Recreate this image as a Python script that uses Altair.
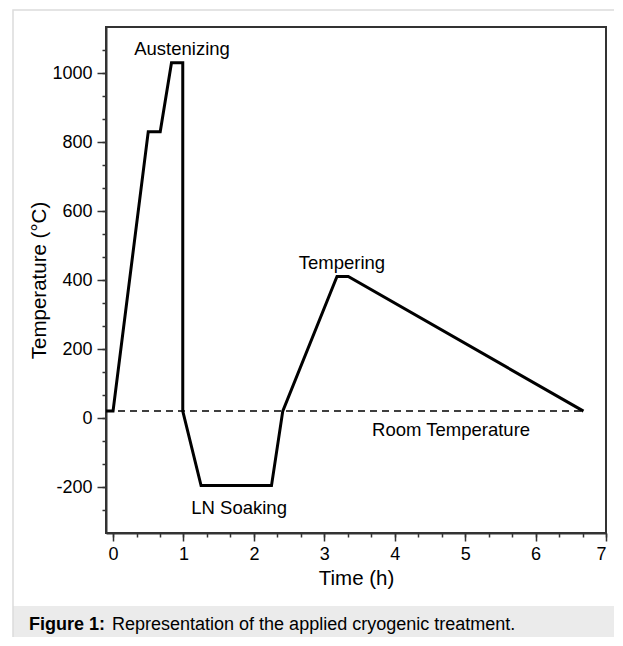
import altair as alt
import pandas as pd

# Temperature profile (time in hours, temperature in °C)
time_h = [-0.1, 0.0, 0.5, 0.67, 0.83, 0.99, 0.99, 1.25, 2.25, 2.41, 3.18, 3.34, 6.68]
temp_c = [20, 20, 830, 830, 1030, 1030, 20, -196, -196, 20, 410, 410, 20]

# Room temperature reference line
room_time = [-0.1, 6.68]
room_temp = [20, 20]

# Annotations
label_text = ["Austenizing", "LN Soaking", "Tempering", "Room Temperature"]
label_time = [0.98, 1.79, 3.25, 4.80]
label_temp = [1071, -262, 450, -35]

# Axis ticks
x_major = [0, 1, 2, 3, 4, 5, 6, 7]
x_minor = [k / 3 for k in range(0, 22)]
y_major = [-200, 0, 200, 400, 600, 800, 1000]
y_minor = [k * 200 / 3 for k in range(-4, 17)]

caption_bold = "Figure 1:"
caption_rest = "Representation of the applied cryogenic treatment."

FONT = "Liberation Sans"

df = pd.DataFrame({"t": time_h, "T": temp_c, "i": list(range(len(time_h)))})
room_df = pd.DataFrame({"t": room_time, "T": room_temp})
lab_df = pd.DataFrame({"t": label_time, "T": label_temp, "label": label_text})
one = pd.DataFrame({"a": [0]})

xscale = alt.Scale(domain=[-0.1, 7], nice=False, zero=False)
yscale = alt.Scale(domain=[-1000 / 3, 3400 / 3], nice=False, zero=False)

band = alt.Chart(one).mark_rect(fill="#ebebeb", stroke=None).encode(
    x=alt.value(-93), x2=alt.value(530), y=alt.value(579), y2=alt.value(640)
)
border = alt.Chart(one).mark_rect(fill=None, stroke="#dcdcdc", strokeWidth=1.5).encode(
    x=alt.value(-93), x2=alt.value(530), y=alt.value(-17), y2=alt.value(640)
)

dashed = alt.Chart(room_df).mark_line(color="black", strokeWidth=1.5, strokeDash=[7, 5]).encode(
    x=alt.X("t:Q", scale=xscale, axis=None),
    y=alt.Y("T:Q", scale=yscale, axis=None),
)

line = alt.Chart(df).mark_line(color="black", strokeWidth=3, strokeJoin="miter").encode(
    x=alt.X(
        "t:Q", scale=xscale,
        axis=alt.Axis(values=x_major, title="Time (h)", orient="bottom", tickSize=8,
                      labelPadding=4, titlePadding=5),
    ),
    y=alt.Y(
        "T:Q", scale=yscale,
        axis=alt.Axis(values=y_major, title="Temperature (°C)", orient="left", tickSize=9,
                      labelPadding=5, titlePadding=2, labelExpr="'' + datum.value"),
    ),
    order="i:Q",
)

minor = alt.Chart(df).mark_point(opacity=0).encode(
    x=alt.X("t:Q", scale=xscale,
            axis=alt.Axis(values=x_minor, orient="bottom", labels=False, domain=False,
                          tickSize=4, title=None)),
    y=alt.Y("T:Q", scale=yscale,
            axis=alt.Axis(values=y_minor, orient="left", labels=False, domain=False,
                          tickSize=4, title=None)),
)

labels = alt.Chart(lab_df).mark_text(fontSize=18.5, font=FONT, color="black").encode(
    x=alt.X("t:Q", scale=xscale, axis=None),
    y=alt.Y("T:Q", scale=yscale, axis=None),
    text="label:N",
)

cap1 = alt.Chart(one).mark_text(
    text=caption_bold, fontSize=18, font=FONT, fontWeight="bold", align="left",
    baseline="alphabetic", color="black"
).encode(x=alt.value(-77), y=alt.value(603))
cap2 = alt.Chart(one).mark_text(
    text=caption_rest, fontSize=18, font=FONT, align="left",
    baseline="alphabetic", color="black"
).encode(x=alt.value(6), y=alt.value(603))

chart = (
    alt.layer(band, border, dashed, line, minor, labels, cap1, cap2)
    .resolve_axis(x="independent", y="independent")
    .properties(
        width=500, height=506,
        autosize=alt.AutoSizeParams(type="none"),
        padding={"left": 98, "top": 19, "right": 8, "bottom": 104},
        background="white",
    )
    .configure_view(stroke="#333333", strokeWidth=2)
    .configure_axis(
        grid=False,
        domainColor="#333333", domainWidth=2,
        tickColor="#333333", tickWidth=1.5,
        labelFont=FONT, labelFontSize=18, labelColor="black",
        titleFont=FONT, titleFontSize=20.5, titleFontWeight="normal", titleColor="black",
    )
)

chart.save("out.html", embed_options={"renderer": "svg", "actions": False})
